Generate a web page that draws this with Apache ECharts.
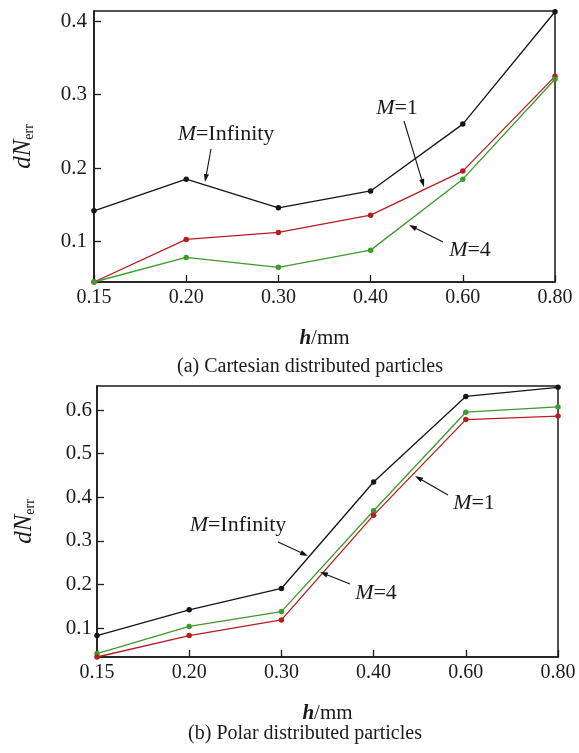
<!DOCTYPE html>
<html><head><meta charset="utf-8">
<script src="https://cdn.jsdelivr.net/npm/echarts@6/dist/echarts.min.js"></script>
<style>html,body{margin:0;padding:0;background:#fff}#c{width:579px;height:753px}</style>
</head><body><div id="c"></div>
<script>
// Data
const categories = ['0.15', '0.20', '0.30', '0.40', '0.60', '0.80'];
const cartInfinity = [0.142, 0.185, 0.146, 0.169, 0.260, 0.413];
const cartM1 = [0.045, 0.103, 0.1125, 0.136, 0.196, 0.325];
const cartM4 = [0.045, 0.0785, 0.065, 0.0884, 0.185, 0.321];
const polarInfinity = [0.083, 0.142, 0.191, 0.435, 0.631, 0.652];
const polarM1 = [0.034, 0.083, 0.119, 0.359, 0.578, 0.586];
const polarM4 = [0.042, 0.104, 0.138, 0.369, 0.595, 0.607];
const yTicksTop = [0.1, 0.2, 0.3, 0.4];
const yTicksBottom = [0.1, 0.2, 0.3, 0.4, 0.5, 0.6];

const FONT = '"Liberation Serif", "Times New Roman", serif';
const TXT = '#1a1a1a';
const BLACK = '#151515', RED = '#b81c22', GREEN = '#3d9a2c';

function xAxis(gridIndex) {
  return {
    type: 'category', gridIndex, data: categories, boundaryGap: false,
    axisLine: {lineStyle: {color: TXT, width: 1.5}},
    axisTick: {inside: true, length: 7, lineStyle: {color: TXT, width: 1.3}},
    axisLabel: {fontFamily: FONT, fontSize: 20, color: TXT, margin: 6},
    name: '{i|h}{n|/mm}', nameLocation: 'middle', nameGap: 46,
    nameTextStyle: {rich: {
      i: {fontFamily: FONT, fontSize: 21, fontStyle: 'italic', fontWeight: 'bold', color: TXT},
      n: {fontFamily: FONT, fontSize: 21, color: TXT}
    }},
    splitLine: {show: false}
  };
}
function yAxis(gridIndex, min, max, ticks, gap, margin) {
  return {
    type: 'value', gridIndex, min, max,
    axisLine: {show: true, lineStyle: {color: TXT, width: 1.5}},
    axisTick: {show: true, inside: true, length: 7, customValues: ticks, lineStyle: {color: TXT, width: 1.3}},
    axisLabel: {fontFamily: FONT, fontSize: 21, color: TXT, margin, customValues: ticks,
      formatter: v => String(Math.round(v * 10) / 10)},
    splitLine: {show: false},
    name: '{i|dN}{s|err}', nameLocation: 'middle', nameGap: gap, nameRotate: 90,
    nameTextStyle: {rich: {
      i: {fontFamily: FONT, fontSize: 25, fontStyle: 'italic', color: TXT},
      s: {fontFamily: FONT, fontSize: 14, color: TXT, padding: [11, 0, 0, 0]}
    }}
  };
}
function line(name, data, color, idx) {
  return {
    type: 'line', name, data, xAxisIndex: idx, yAxisIndex: idx,
    symbol: 'circle', symbolSize: 5.5, showSymbol: true,
    lineStyle: {color, width: 1.3}, itemStyle: {color},
    animation: false, z: 3
  };
}

// Annotation helpers (text + arrows, pixel layout)
function arrow(x1, y1, x2, y2) {
  const dx = x2 - x1, dy = y2 - y1, L = Math.hypot(dx, dy);
  const ux = dx / L, uy = dy / L, hl = 8, hw = 2.6;
  const bx = x2 - ux * hl, by = y2 - uy * hl;
  return [
    {type: 'line', shape: {x1, y1, x2: bx, y2: by}, style: {stroke: '#111', lineWidth: 1.1}, z: 10},
    {type: 'polygon', shape: {points: [[x2, y2], [bx - uy * hw, by + ux * hw], [bx + uy * hw, by - ux * hw]]},
      style: {fill: '#111'}, z: 10}
  ];
}
function label(m, x, y) {
  return {type: 'text', x, y, z: 10, style: {
    text: '{i|M}{n|=' + m + '}', align: 'center', verticalAlign: 'middle',
    rich: {
      i: {fontFamily: FONT, fontSize: 22, fontStyle: 'italic', fill: TXT},
      n: {fontFamily: FONT, fontSize: 22, fill: TXT}
    }
  }};
}
const graphic = [].concat(
  label('Infinity', 226, 134), arrow(211, 149, 205, 182),
  label('1', 397, 108), arrow(404, 121, 424, 187),
  label('4', 470, 250), arrow(443, 242, 409, 225),
  label('Infinity', 238, 525), arrow(278, 542, 308, 556),
  label('4', 376, 593), arrow(350, 584, 320, 572),
  label('1', 474, 503), arrow(448, 495, 415, 476),
  [
    {type: 'text', x: 310, y: 367, style: {text: '(a) Cartesian distributed particles', align: 'center', verticalAlign: 'middle', fontFamily: FONT, fontSize: 20, fill: TXT}},
    {type: 'text', x: 305, y: 734, style: {text: '(b) Polar distributed particles', align: 'center', verticalAlign: 'middle', fontFamily: FONT, fontSize: 20, fill: TXT}}
  ]
);

const chart = echarts.init(document.getElementById('c'), null, {renderer: 'canvas'});
chart.setOption({
  backgroundColor: '#fff',
  animation: false,
  grid: [
    {left: 94, top: 11, width: 461, height: 271, show: true, borderColor: TXT, borderWidth: 1.5, backgroundColor: 'transparent'},
    {left: 97, top: 386, width: 461, height: 271, show: true, borderColor: TXT, borderWidth: 1.5, backgroundColor: 'transparent'}
  ],
  xAxis: [xAxis(0), xAxis(1)],
  yAxis: [yAxis(0, 0.045, 0.414, yTicksTop, 58, 7), yAxis(1, 0.034, 0.655, yTicksBottom, 60, 5)],
  series: [
    line('M=Infinity', cartInfinity, BLACK, 0),
    line('M=1', cartM1, RED, 0),
    line('M=4', cartM4, GREEN, 0),
    line('M=Infinity', polarInfinity, BLACK, 1),
    line('M=4', polarM4, GREEN, 1),
    line('M=1', polarM1, RED, 1)
  ],
  graphic
});
</script></body></html>
